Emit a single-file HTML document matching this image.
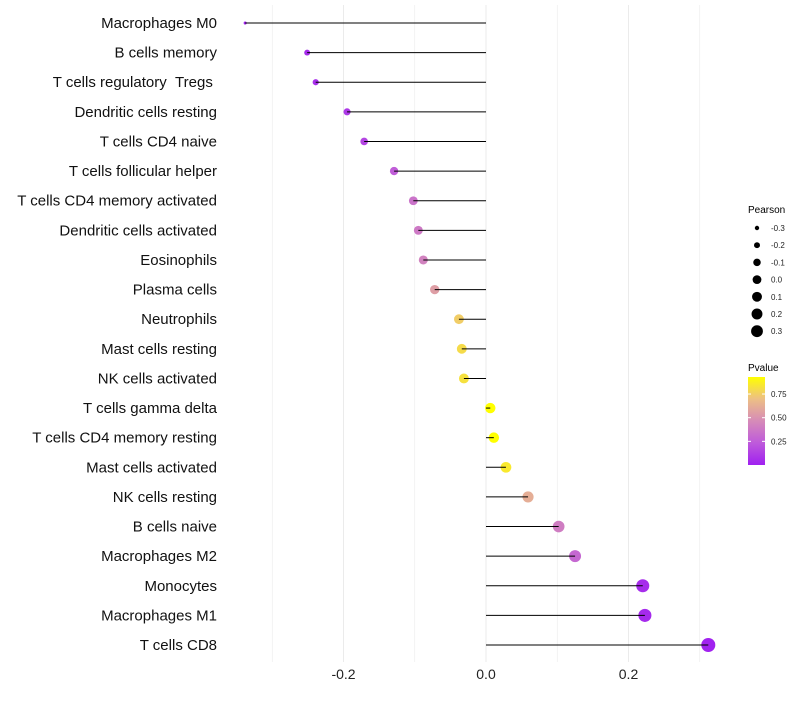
<!DOCTYPE html>
<html><head><meta charset="utf-8"><style>
body{margin:0;background:#fff;font-family:"Liberation Sans",sans-serif}
</style></head><body>
<svg id="chart" width="800" height="700" xmlns="http://www.w3.org/2000/svg">
<defs><linearGradient id="pg" x1="0" y1="1" x2="0" y2="0">
<stop offset="0" stop-color="#A020F0"/><stop offset="0.25" stop-color="#BE5ADB"/><stop offset="0.5" stop-color="#D68BB8"/><stop offset="0.75" stop-color="#EDBF85"/><stop offset="1" stop-color="#FFFF00"/></linearGradient></defs>
<g id="grid"></g>
<g id="dots"></g>
<g id="marks"></g>
<g id="ylabels"></g>
<g id="xlabels"></g>
<g id="legS">
<text x="748" y="213" font-size="10">Pearson</text>
</g>
<g>
<text x="748" y="371" font-size="10">Pvalue</text>
<rect x="748" y="377" width="17" height="88" fill="url(#pg)"/>
<g id="legC"></g>
</g>
</svg>
<script>
const categories=["Macrophages M0","B cells memory","T cells regulatory\u00a0\u00a0Tregs\u00a0","Dendritic cells resting","T cells CD4 naive","T cells follicular helper","T cells CD4 memory activated","Dendritic cells activated","Eosinophils","Plasma cells","Neutrophils","Mast cells resting","NK cells activated","T cells gamma delta","T cells CD4 memory resting","Mast cells activated","NK cells resting","B cells naive","Macrophages M2","Monocytes","Macrophages M1","T cells CD8"];
const pearson=[-0.338,-0.251,-0.239,-0.195,-0.171,-0.129,-0.102,-0.095,-0.088,-0.072,-0.038,-0.034,-0.031,0.006,0.011,0.028,0.059,0.102,0.125,0.220,0.223,0.312];
const pvalue=[0.01,0.05,0.06,0.1,0.15,0.25,0.35,0.38,0.42,0.55,0.75,0.8,0.82,0.97,0.94,0.85,0.62,0.4,0.3,0.05,0.04,0.01];
const xTicks=[-0.2,0.0,0.2];
const xTickLabels=["-0.2","0.0","0.2"];
const sizeTicks=[-0.3,-0.2,-0.1,0.0,0.1,0.2,0.3];
const colorTicks=[0.25,0.5,0.75];
const NS="http://www.w3.org/2000/svg";
const X=v=>486+v*712.5;
const Y=i=>23+i*29.62;
const R=v=>Math.sqrt(2.25+Math.max(0,v+0.34)*72);
const CY=p=>465-p*88/0.93;
function col(p){const st=[[0,[160,32,240]],[0.25,[190,90,219]],[0.5,[214,139,184]],[0.75,[237,191,133]],[1,[255,255,0]]];
 const t=Math.min(1,Math.max(0,p/0.93));for(let k=1;k<st.length;k++){if(t<=st[k][0]){const a=st[k-1],b=st[k],f=(t-a[0])/(b[0]-a[0]);return "rgb("+a[1].map((c,j)=>Math.round(c+(b[1][j]-c)*f)).join(",")+")";}}return "rgb(255,255,0)";}
function mk(tag,attrs,parent){const e=document.createElementNS(NS,tag);for(const k in attrs)e.setAttribute(k,attrs[k]);parent.appendChild(e);return e;}
const grid=document.getElementById('grid'),marks=document.getElementById('marks'),dots=document.getElementById('dots'),yl=document.getElementById('ylabels'),xl=document.getElementById('xlabels');
for(let v=-0.3;v<=0.31;v+=0.1){const g=mk('line',{x1:X(v),x2:X(v),y1:5,y2:662,stroke:'#ebebeb','stroke-width':Math.abs(Math.round(v*10))%2==0?1:0.6},grid);

}
xTicks.forEach((v,i)=>{const t=mk('text',{x:X(v),y:679,'font-size':14,'text-anchor':'middle',fill:'#222'},xl);t.textContent=xTickLabels[i];

});
categories.forEach((c,i)=>{
 const t=mk('text',{x:217,y:Y(i)+5,'font-size':15,'text-anchor':'end',fill:'#111'},yl);t.textContent=c;
 
 
 const d=mk('circle',{cx:X(pearson[i]),cy:Y(i),r:R(pearson[i]),fill:col(pvalue[i])},dots);
 
 
 const l=mk('line',{x1:X(0),x2:X(pearson[i]),y1:Y(i),y2:Y(i),stroke:'#000','stroke-width':1},marks);
 
 
});
const legS=document.getElementById('legS');
sizeTicks.forEach((v,i)=>{const y=228+i*17.2;
 const c=mk('circle',{cx:757,cy:y,r:Math.max(2.2,R(v)*0.85),fill:'#000'},legS);
 
 
 const t=mk('text',{x:771,y:y+3,'font-size':8,fill:'#222'},legS);t.textContent=v.toFixed(1);
 
 });
const legC=document.getElementById('legC');
colorTicks.forEach(p=>{const y=CY(p);
 mk('line',{x1:748,x2:751,y1:y,y2:y,stroke:'#fff'},legC);mk('line',{x1:762,x2:765,y1:y,y2:y,stroke:'#fff'},legC);
 const t=mk('text',{x:771,y:y+3,'font-size':8,fill:'#222'},legC);t.textContent=p.toFixed(2);
 
 });
</script>
</body></html>
